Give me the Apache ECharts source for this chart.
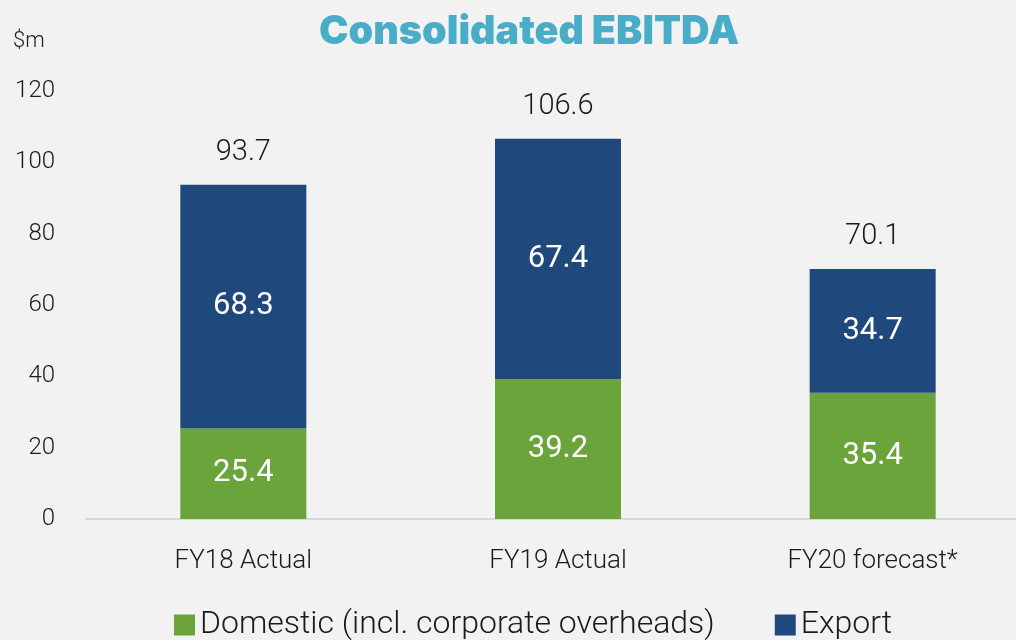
<!DOCTYPE html>
<html>
<head>
<meta charset="UTF-8">
<title>Consolidated EBITDA</title>
<script src="https://cdn.jsdelivr.net/npm/echarts@6/dist/echarts.min.js"></script>
<style>
  html, body { margin: 0; padding: 0; background: #f2f2f2; }
</style>
</head>
<body>
<div id="main" style="width:1016px;height:640px;"></div>
<script type="text/javascript">
var categories = ['FY18 Actual', 'FY19 Actual', 'FY20 forecast*'];
var domestic = [25.4, 39.2, 35.4];
var exportVals = [68.3, 67.4, 34.7];
var totals = [93.7, 106.6, 70.1];
var yTicks = [0, 20, 40, 60, 80, 100, 120];

var myChart = echarts.init(document.getElementById('main'));
var font = 'Roboto';

var option = {
    backgroundColor: '#f2f2f2',
    textStyle: { fontFamily: font, fontWeight: 300 },
    title: {
        text: 'Consolidated EBITDA',
        left: 524,
        textAlign: 'center',
        top: 7,
        textStyle: { color: '#4aadc8', fontSize: 39.5, fontWeight: 900, fontFamily: 'Inter' }
    },
    graphic: [{
        type: 'text', left: 13, top: 30,
        style: { text: '$m', fontSize: 22, fill: '#222', fontFamily: font, fontWeight: 300 }
    }],
    legend: {
        data: ['Domestic (incl. corporate overheads)', 'Export'],
        left: 169, top: 604,
        itemWidth: 21, itemHeight: 21, itemGap: 60,
        icon: 'rect',
        selectedMode: false,
        textStyle: { fontSize: 32, color: '#1a1a1a', fontFamily: font, fontWeight: 300 }
    },
    grid: { left: 86, top: 91, right: -14, height: 428, outerBoundsMode: 'none' },
    xAxis: {
        type: 'category',
        data: categories,
        axisTick: { show: false },
        axisLine: { lineStyle: { color: '#d9d9d9', width: 2 } },
        axisLabel: { fontSize: 26, color: '#1a1a1a', margin: 29, fontWeight: 300 }
    },
    yAxis: {
        type: 'value',
        min: yTicks[0], max: yTicks[yTicks.length - 1], interval: 20,
        splitLine: { show: false },
        axisLine: { show: false },
        axisTick: { show: false },
        axisLabel: { fontSize: 24, color: '#1a1a1a', margin: 31, fontWeight: 300 }
    },
    series: [
        {
            name: 'Domestic (incl. corporate overheads)',
            type: 'bar', stack: 'ebitda', barWidth: 126,
            itemStyle: { color: '#6aa43a' },
            label: { show: true, position: 'inside', color: '#fff', fontSize: 31, fontWeight: 400 },
            data: domestic
        },
        {
            name: 'Export',
            type: 'bar', stack: 'ebitda', barWidth: 126,
            itemStyle: { color: '#1f487c' },
            label: { show: true, position: 'inside', color: '#fff', fontSize: 31, fontWeight: 400 },
            data: exportVals
        },
        {
            name: 'Total',
            type: 'bar', barWidth: 126, barGap: '-100%', z: 1,
            itemStyle: { color: 'rgba(0,0,0,0)' },
            label: { show: true, position: 'top', distance: 18, color: '#1a1a1a', fontSize: 29, fontWeight: 300 },
            silent: true,
            data: totals
        }
    ]
};
myChart.setOption(option);
</script>
</body>
</html>
